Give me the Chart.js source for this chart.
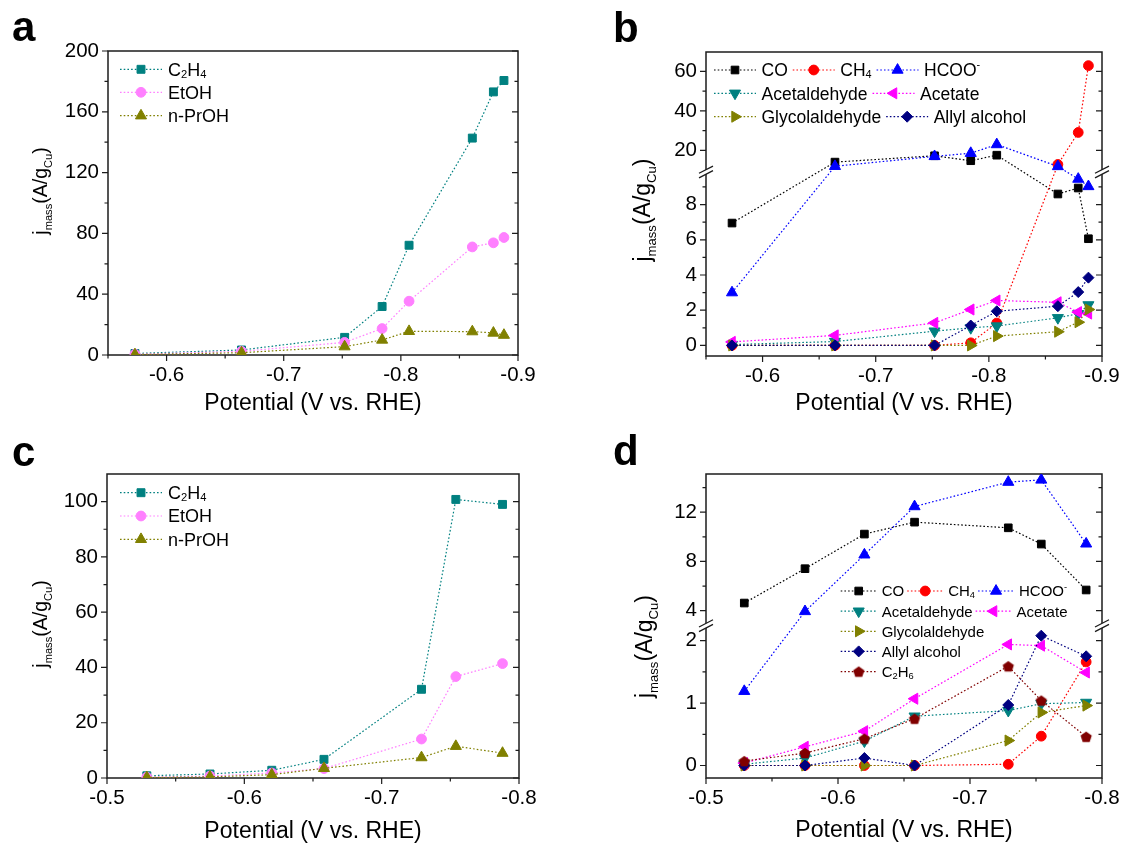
<!DOCTYPE html>
<html lang="en">
<head>
<meta charset="utf-8">
<title>Mass activity vs. potential</title>
<script src="https://cdn.jsdelivr.net/npm/chart.js@4.4.1/dist/chart.umd.min.js"></script>
<style>
  html, body { margin: 0; padding: 0; background: #ffffff; }
  #figure { position: relative; width: 1141px; height: 845px; overflow: hidden; background: #ffffff; }
  #figure canvas { position: absolute; }
</style>
</head>
<body>
<div id="figure">
  <canvas id="panelA" width="570" height="425" style="left:0;top:0;width:570px;height:425px"></canvas>
  <canvas id="panelB" width="571" height="425" style="left:570px;top:0;width:571px;height:425px"></canvas>
  <canvas id="panelC" width="570" height="420" style="left:0;top:425px;width:570px;height:420px"></canvas>
  <canvas id="panelD" width="571" height="420" style="left:570px;top:425px;width:571px;height:420px"></canvas>
</div>
<script>
// ---------------- data (A per gram Cu vs. potential, V vs. RHE) ----------------
const potentialsAB = [-0.573, -0.664, -0.752, -0.784, -0.807, -0.861, -0.879, -0.888];
const potentialsCD = [-0.529, -0.575, -0.620, -0.658, -0.729, -0.754, -0.788];

// panel a
const aC2H4 = [1.0, 3.3, 11.6, 31.9, 72.2, 142.7, 173.1, 180.6];
const aEtOH = [0.5, 2.4, 8.3, 17.4, 35.4, 71.1, 73.8, 77.3];
const aPrOH = [0.3, 1.5, 5.5, 9.9, 15.6, 15.4, 14.5, 13.1];

// panel b
const bCO = [6.95, 14.1, 17.3, 14.8, 17.6, 8.6, 8.94, 6.06];
const bCH4 = [0, 0, 0, 0.15, 1.27, 12.9, 29.1, 62.9];
const bHCOO = [3.0, 12.0, 17.0, 18.6, 23.0, 11.9, 9.45, 9.03];
const bAcetaldehyde = [0.05, 0.22, 0.81, 1.0, 1.1, 1.57, 1.8, 2.3];
const bAcetate = [0.2, 0.57, 1.28, 2.04, 2.55, 2.45, 1.89, 1.81];
const bGlycolaldehyde = [0, 0, 0, 0, 0.53, 0.78, 1.32, 2.04];
const bAllylAlcohol = [0, 0, 0, 1.13, 1.94, 2.23, 3.03, 3.85];

// panel c
const cC2H4 = [0.8, 1.45, 2.8, 6.75, 32.1, 100.8, 99.0];
const cEtOH = [0.3, 0.7, 1.8, 3.4, 14.1, 36.7, 41.4];
const cPrOH = [0.2, 0.4, 1.2, 3.5, 7.4, 11.5, 9.0];

// panel d
const dCO = [4.62, 7.41, 10.22, 11.19, 10.73, 9.41, 5.68];
const dCH4 = [0, 0, 0, 0, 0.02, 0.47, 1.66];
const dHCOO = [1.19, 3.94, 8.54, 12.46, 14.44, 14.62, 9.43];
const dAcetaldehyde = [0.02, 0.12, 0.39, 0.79, 0.88, 0.99, 1.01];
const dAcetate = [0.04, 0.3, 0.55, 1.07, 1.94, 1.92, 1.49];
const dGlycolaldehyde = [0, 0, 0, 0, 0.4, 0.85, 0.96];
const dAllylAlcohol = [0, 0, 0.12, 0, 0.97, 2.08, 1.75];
const dC2H6 = [0.07, 0.2, 0.43, 0.75, 1.59, 1.04, 0.46];

// tick values
const xMajorAB = [-0.6, -0.7, -0.8, -0.9];
const xMinorAB = [-0.55, -0.65, -0.75, -0.85];
const xMajorCD = [-0.5, -0.6, -0.7, -0.8];
const xMinorCD = [-0.55, -0.65, -0.75];
const yMajorA = [0, 40, 80, 120, 160, 200];
const yMinorA = [20, 60, 100, 140, 180];
const yMajorB = [0, 2, 4, 6, 8, 20, 40, 60];
const yMinorB = [1, 3, 5, 7, 9, 30, 50];
const yMajorC = [0, 20, 40, 60, 80, 100];
const yMinorC = [10, 30, 50, 70, 90];
const yMajorD = [0, 1, 2, 4, 8, 12];
const yMinorD = [0.5, 1.5, 6, 10, 14];

// ---------------- styling ----------------
const FONT = '"Liberation Sans", Arial, Helvetica, sans-serif';
const AXIS_COLOR = '#1c1c1c';
const X_TITLE = 'Potential (V vs. RHE)';
const Y_TITLE = [['j', 0], ['mass', 1], ['(A/g', 0], ['Cu', 1], [')', 0]];

Chart.defaults.font.family = FONT;
Chart.defaults.color = '#000';

// filled pentagon marker for ethane
function pentagonMarker(color, r) {
  const size = Math.ceil(r * 2 + 2);
  const c = document.createElement('canvas');
  c.width = size; c.height = size;
  const g = c.getContext('2d');
  g.fillStyle = color;
  g.beginPath();
  for (let k = 0; k < 5; k++) {
    const ang = -Math.PI / 2 + k * 2 * Math.PI / 5;
    const px = size / 2 + r * Math.cos(ang), py = size / 2 + r * Math.sin(ang) + 0.6;
    if (k === 0) g.moveTo(px, py); else g.lineTo(px, py);
  }
  g.closePath();
  g.fill();
  return c;
}

const SERIES = {
  C2H4:           { color: '#008080', style: 'rect', radius: 5.6, parts: [['C', 0], ['2', 1], ['H', 0], ['4', 1]] },
  EtOH:           { color: '#FF80FF', style: 'circle', radius: 4.9, parts: [['EtOH', 0]] },
  PrOH:           { color: '#808000', style: 'triangle', radius: 6.4, parts: [['n-PrOH', 0]] },
  CO:             { color: '#000000', style: 'rect', radius: 5.4, parts: [['CO', 0]] },
  CH4:            { color: '#FF0000', style: 'circle', radius: 4.9, parts: [['CH', 0], ['4', 1]] },
  HCOO:           { color: '#0000FF', style: 'triangle', radius: 6.4, parts: [['HCOO', 0], ['-', 2]] },
  Acetaldehyde:   { color: '#008080', style: 'triangle', rotation: 180, radius: 6.4, parts: [['Acetaldehyde', 0]] },
  Acetate:        { color: '#FF00FF', style: 'triangle', rotation: 270, radius: 6.4, parts: [['Acetate', 0]] },
  Glycolaldehyde: { color: '#808000', style: 'triangle', rotation: 90, radius: 6.4, parts: [['Glycolaldehyde', 0]] },
  AllylAlcohol:   { color: '#000080', style: 'rectRot', radius: 5.5, parts: [['Allyl alcohol', 0]] },
  C2H6:           { color: '#800000', style: pentagonMarker('#800000', 5.9), radius: 6, parts: [['C', 0], ['2', 1], ['H', 0], ['6', 1]] }
};

function series(key, xs, ys, order) {
  const s = SERIES[key];
  return {
    label: s.parts.map(p => p[0]).join(''),
    parts: s.parts,
    data: xs.map((x, i) => ({ x: x, y: ys[i] })),
    borderColor: s.color,
    backgroundColor: s.color,
    borderWidth: 1.2,
    borderDash: [1.6, 2.1],
    pointStyle: s.style,
    pointRotation: s.rotation || 0,
    pointRadius: s.radius,
    pointBorderWidth: 1,
    pointBorderColor: s.color,
    pointBackgroundColor: s.color,
    tension: 0,
    fill: false,
    order: order
  };
}

// ---------------- text helpers ----------------
function richWidth(ctx, parts, size, subScale) {
  let w = 0;
  for (const [t, k] of parts) {
    ctx.font = `${k ? size * subScale : size}px ${FONT}`;
    w += ctx.measureText(t).width;
  }
  return w;
}
function drawRich(ctx, parts, x, y, size, subScale, subDrop) {
  let cx = x;
  for (const [t, k] of parts) {
    const s = k ? size * subScale : size;
    ctx.font = `${s}px ${FONT}`;
    const dy = k === 1 ? size * subDrop : (k === 2 ? -size * 0.45 : 0);
    ctx.fillText(t, cx, y + dy);
    cx += ctx.measureText(t).width;
  }
  return cx - x;
}

// ---------------- broken value axis ----------------
const LinearScale = Chart.registry.getScale('linear');
function registerBrokenScale(id, seg, majorValues) {
  class BrokenScale extends LinearScale {
    buildTicks() { return majorValues.map(v => ({ value: v })); }
    breakPixel() { return this.bottom - seg.split * (this.bottom - this.top); }
    getPixelForValue(value) {
      const bp = this.breakPixel();
      if (value <= seg.lower[1]) {
        return this.bottom - (value - seg.lower[0]) / (seg.lower[1] - seg.lower[0]) * (this.bottom - bp);
      }
      return bp - (value - seg.upper[0]) / (seg.upper[1] - seg.upper[0]) * (bp - this.top);
    }
    getValueForPixel(pixel) {
      const bp = this.breakPixel();
      if (pixel >= bp) {
        return seg.lower[0] + (this.bottom - pixel) / (this.bottom - bp) * (seg.lower[1] - seg.lower[0]);
      }
      return seg.upper[0] + (bp - pixel) / (bp - this.top) * (seg.upper[1] - seg.upper[0]);
    }
  }
  BrokenScale.id = id;
  BrokenScale.defaults = {};
  Chart.register(BrokenScale);
}

const segB = { lower: [-0.6, 9.85], upper: [9.1, 69.8], split: 0.6053 };
const segD = { lower: [-0.2, 2.24], upper: [2.78, 15.1], split: 0.501 };
registerBrokenScale('brokenB', segB, yMajorB);
registerBrokenScale('brokenD', segD, yMajorD);

// ---------------- plugins ----------------
function drawBreakMark(ctx, ax, y) {
  const h = 7, s = 3.6, g = 2.3;
  ctx.fillStyle = '#ffffff';
  ctx.beginPath();
  ctx.moveTo(ax - h, y - g + s); ctx.lineTo(ax + h, y - g - s);
  ctx.lineTo(ax + h, y + g - s); ctx.lineTo(ax - h, y + g + s);
  ctx.closePath();
  ctx.fill();
  ctx.beginPath();
  ctx.moveTo(ax - h, y - g + s); ctx.lineTo(ax + h, y - g - s);
  ctx.moveTo(ax - h, y + g + s); ctx.lineTo(ax + h, y + g - s);
  ctx.stroke();
}

function framePlugin(p) {
  return {
    id: 'frame',
    beforeDatasetsDraw(chart) {
      const { ctx, chartArea: a } = chart;
      const xs = chart.scales.x, ys = chart.scales.y;
      ctx.save();
      ctx.strokeStyle = AXIS_COLOR;
      ctx.lineWidth = 1.5;
      ctx.strokeRect(a.left, a.top, a.right - a.left, a.bottom - a.top);
      ctx.lineWidth = 1.2;
      ctx.beginPath();
      const xTick = (v, len) => {
        const px = xs.getPixelForValue(v);
        ctx.moveTo(px, a.bottom); ctx.lineTo(px, a.bottom + len);
      };
      const yTick = (v, len) => {
        const py = ys.getPixelForValue(v);
        ctx.moveTo(a.left - len, py); ctx.lineTo(a.left, py);
        ctx.moveTo(a.right - len, py); ctx.lineTo(a.right, py);
      };
      p.xMajor.forEach(v => xTick(v, 6));
      p.xMinor.forEach(v => xTick(v, 3.5));
      p.yMajor.forEach(v => yTick(v, 6));
      p.yMinor.forEach(v => yTick(v, 3.5));
      ctx.stroke();
      if (p.breakValue !== undefined) {
        const bp = ys.getPixelForValue(p.breakValue);
        ctx.lineWidth = 1.3;
        drawBreakMark(ctx, a.left, bp);
        drawBreakMark(ctx, a.right, bp);
      }
      ctx.restore();
    }
  };
}

function labelPlugin(p) {
  return {
    id: 'labels',
    afterDraw(chart) {
      const { ctx, chartArea: a } = chart;
      ctx.save();
      ctx.fillStyle = '#000';
      ctx.textBaseline = 'alphabetic';
      // panel letter
      ctx.textAlign = 'left';
      ctx.font = `bold 42px ${FONT}`;
      ctx.fillText(p.letter, p.letterX, p.letterY);
      // x-axis title
      ctx.textAlign = 'center';
      ctx.font = `23px ${FONT}`;
      ctx.fillText(X_TITLE, (a.left + a.right) / 2, p.xTitleY);
      // y-axis title (rotated, with subscripts)
      ctx.textAlign = 'left';
      ctx.save();
      ctx.translate(p.yTitleX, p.yTitleY);
      ctx.rotate(-Math.PI / 2);
      const w = richWidth(ctx, Y_TITLE, p.yTitleSize, 0.57);
      drawRich(ctx, Y_TITLE, -w / 2, 0, p.yTitleSize, 0.57, 0.24);
      ctx.restore();
      // legend
      const lg = p.legend;
      lg.rows.forEach((row, r) => {
        let x = lg.x;
        const y = lg.ys[r];
        row.forEach(idx => {
          const ds = chart.data.datasets[idx];
          ctx.save();
          ctx.strokeStyle = ds.borderColor;
          ctx.lineWidth = ds.borderWidth;
          ctx.setLineDash(ds.borderDash);
          ctx.beginPath();
          ctx.moveTo(x, y); ctx.lineTo(x + lg.sw, y);
          ctx.stroke();
          ctx.setLineDash([]);
          ctx.fillStyle = ds.pointBackgroundColor;
          ctx.strokeStyle = ds.pointBorderColor;
          ctx.lineWidth = ds.pointBorderWidth;
          Chart.helpers.drawPoint(ctx, {
            pointStyle: ds.pointStyle, rotation: ds.pointRotation,
            radius: ds.pointRadius, borderWidth: ds.pointBorderWidth
          }, x + lg.sw / 2, y);
          ctx.restore();
          x += lg.sw + lg.gapText;
          ctx.fillStyle = '#000';
          x += drawRich(ctx, ds.parts, x, y + lg.size * 0.36, lg.size, 0.62, 0.12);
          x += lg.gapItem;
        });
      });
      ctx.restore();
    }
  };
}

// ---------------- chart factory ----------------
function buildPanel(canvasId, cfg) {
  const n = cfg.datasets.length;
  cfg.datasets.forEach((d, i) => { d.order = n - i; });
  return new Chart(document.getElementById(canvasId), {
    type: 'line',
    data: { datasets: cfg.datasets },
    options: {
      responsive: false,
      animation: false,
      events: [],
      layout: { padding: cfg.padding },
      plugins: { legend: { display: false }, tooltip: { enabled: false } },
      scales: {
        x: {
          type: 'linear',
          reverse: true,
          min: cfg.xMin,
          max: cfg.xMax,
          afterBuildTicks: s => { s.ticks = cfg.xMajor.map(v => ({ value: v })); },
          afterFit: s => { s.height = cfg.xHeight; },
          grid: { display: false, drawTicks: false },
          border: { display: false },
          ticks: { font: { size: 20.5 }, color: '#000', padding: 8, maxRotation: 0, autoSkip: false,
                   callback: v => String(v) }
        },
        y: Object.assign({
          afterFit: s => { s.width = cfg.yWidth; },
          grid: { display: false, drawTicks: false },
          border: { display: false },
          ticks: { font: { size: 20.5 }, color: '#000', padding: 9, autoSkip: false,
                   callback: v => String(v) }
        }, cfg.yScale)
      }
    },
    plugins: [framePlugin(cfg.frame), labelPlugin(cfg.labels)]
  });
}

// panel a
buildPanel('panelA', {
  datasets: [
    series('C2H4', potentialsAB, aC2H4),
    series('EtOH', potentialsAB, aEtOH),
    series('PrOH', potentialsAB, aPrOH)
  ],
  padding: { left: 0, top: 51, right: 52, bottom: 0 },
  xHeight: 70, yWidth: 108,
  xMin: -0.9, xMax: -0.55, xMajor: xMajorAB,
  yScale: { type: 'linear', min: 0, max: 200,
            afterBuildTicks: s => { s.ticks = yMajorA.map(v => ({ value: v })); } },
  frame: { xMajor: xMajorAB, xMinor: xMinorAB, yMajor: yMajorA, yMinor: yMinorA },
  labels: {
    letter: 'a', letterX: 12, letterY: 41, xTitleY: 410,
    yTitleX: 47, yTitleY: 191, yTitleSize: 19.5,
    legend: { x: 120, ys: [69.3, 92.3, 115.7], rows: [[0], [1], [2]], sw: 42, gapText: 6, gapItem: 5, size: 18 }
  }
});

// panel b
buildPanel('panelB', {
  datasets: [
    series('CO', potentialsAB, bCO),
    series('CH4', potentialsAB, bCH4),
    series('HCOO', potentialsAB, bHCOO),
    series('Acetaldehyde', potentialsAB, bAcetaldehyde),
    series('Acetate', potentialsAB, bAcetate),
    series('Glycolaldehyde', potentialsAB, bGlycolaldehyde),
    series('AllylAlcohol', potentialsAB, bAllylAlcohol)
  ],
  padding: { left: 0, top: 52, right: 39, bottom: 0 },
  xHeight: 69, yWidth: 136,
  xMin: -0.9, xMax: -0.55, xMajor: xMajorAB,
  yScale: { type: 'brokenB', min: segB.lower[0], max: segB.upper[1] },
  frame: { xMajor: xMajorAB, xMinor: xMinorAB, yMajor: yMajorB, yMinor: yMinorB, breakValue: segB.lower[1] },
  labels: {
    letter: 'b', letterX: 43, letterY: 42, xTitleY: 410,
    yTitleX: 80, yTitleY: 210, yTitleSize: 23,
    legend: { x: 144, ys: [70, 93.3, 116.7], rows: [[0, 1, 2], [3, 4], [5, 6]], sw: 42, gapText: 5.5, gapItem: 5, size: 17.5 }
  }
});

// panel c
buildPanel('panelC', {
  datasets: [
    series('C2H4', potentialsCD, cC2H4),
    series('EtOH', potentialsCD, cEtOH),
    series('PrOH', potentialsCD, cPrOH)
  ],
  padding: { left: 0, top: 49, right: 51, bottom: 0 },
  xHeight: 67, yWidth: 107,
  xMin: -0.8, xMax: -0.5, xMajor: xMajorCD,
  yScale: { type: 'linear', min: 0, max: 110,
            afterBuildTicks: s => { s.ticks = yMajorC.map(v => ({ value: v })); } },
  frame: { xMajor: xMajorCD, xMinor: xMinorCD, yMajor: yMajorC, yMinor: yMinorC },
  labels: {
    letter: 'c', letterX: 12, letterY: 41, xTitleY: 413,
    yTitleX: 47, yTitleY: 199, yTitleSize: 19.5,
    legend: { x: 120, ys: [67.7, 91, 114.3], rows: [[0], [1], [2]], sw: 42, gapText: 6, gapItem: 5, size: 18 }
  }
});

// panel d
buildPanel('panelD', {
  datasets: [
    series('CO', potentialsCD, dCO),
    series('CH4', potentialsCD, dCH4),
    series('HCOO', potentialsCD, dHCOO),
    series('Acetaldehyde', potentialsCD, dAcetaldehyde),
    series('Acetate', potentialsCD, dAcetate),
    series('Glycolaldehyde', potentialsCD, dGlycolaldehyde),
    series('AllylAlcohol', potentialsCD, dAllylAlcohol),
    series('C2H6', potentialsCD, dC2H6)
  ],
  padding: { left: 0, top: 49, right: 39, bottom: 0 },
  xHeight: 67, yWidth: 136,
  xMin: -0.8, xMax: -0.5, xMajor: xMajorCD,
  yScale: { type: 'brokenD', min: segD.lower[0], max: segD.upper[1] },
  frame: { xMajor: xMajorCD, xMinor: xMinorCD, yMajor: yMajorD, yMinor: yMinorD, breakValue: segD.lower[1] },
  labels: {
    letter: 'd', letterX: 43, letterY: 40, xTitleY: 412,
    yTitleX: 82, yTitleY: 221.5, yTitleSize: 23,
    legend: { x: 270.7, ys: [166, 186.2, 206.3, 226.4, 246.6], rows: [[0, 1, 2], [3, 4], [5], [6], [7]], sw: 36, gapText: 5, gapItem: 3, size: 15 }
  }
});
</script>
</body>
</html>
